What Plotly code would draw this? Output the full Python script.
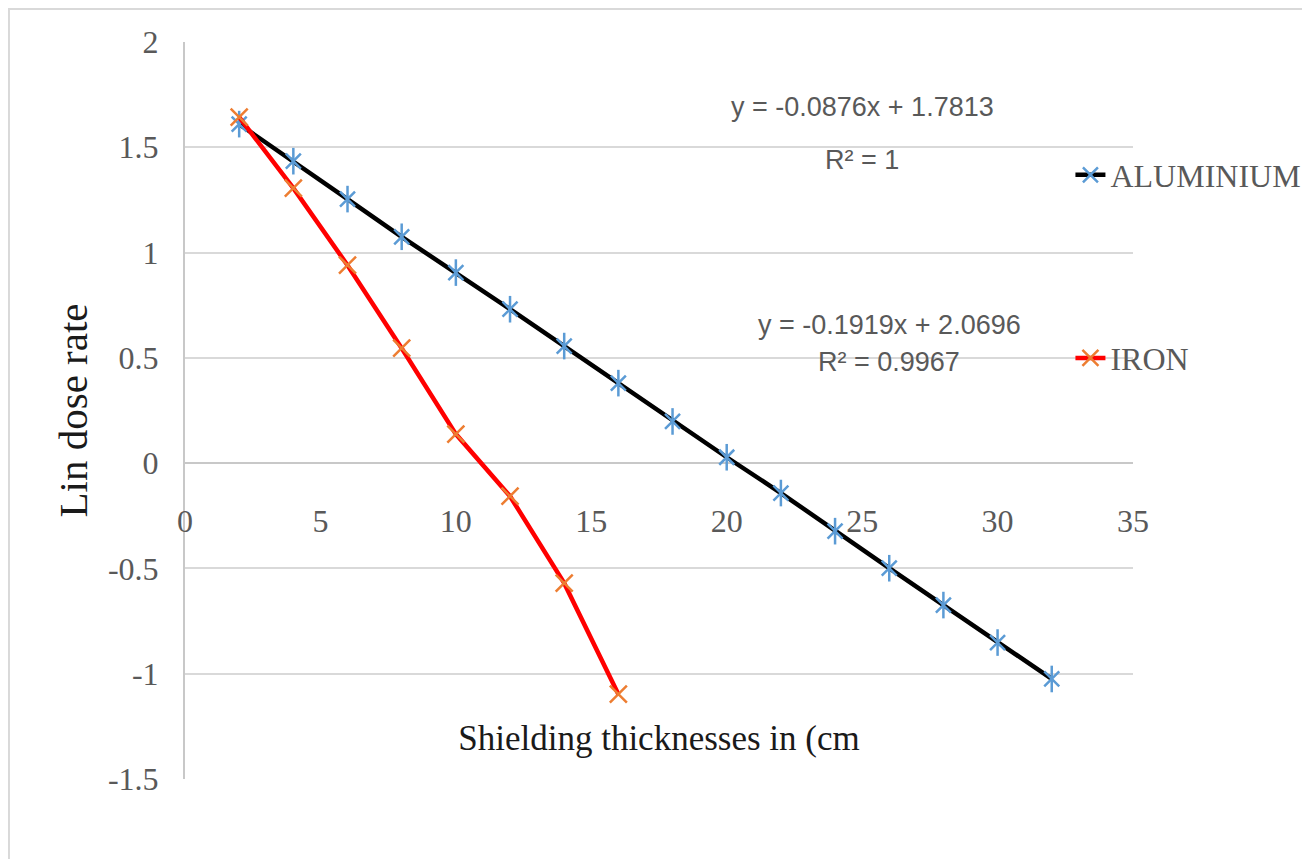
import plotly.graph_objects as go

# ---------------- data ----------------
al_x = [2, 4, 6, 8, 10, 12, 14, 16, 18, 20, 22, 24, 26, 28, 30, 32]
al_y = [1.61, 1.434, 1.254, 1.075, 0.905, 0.731, 0.556, 0.380, 0.198, 0.028,
        -0.142, -0.323, -0.499, -0.674, -0.852, -1.025]
fe_x = [2, 4, 6, 8, 10, 12, 14, 16]
fe_y = [1.643, 1.306, 0.94, 0.546, 0.138, -0.157, -0.57, -1.097]

series_names = ["ALUMINIUM", "IRON"]
x_ticks = [0, 5, 10, 15, 20, 25, 30, 35]
x_tick_text = ["0", "5", "10", "15", "20", "25", "30", "35"]
y_ticks = [-1.5, -1, -0.5, 0, 0.5, 1, 1.5, 2]
y_tick_text = ["-1.5", "-1", "-0.5", "0", "0.5", "1", "1.5", "2"]
eq_al = ["y = -0.0876x + 1.7813", "R² = 1"]
eq_fe = ["y = -0.1919x + 2.0696", "R² = 0.9967"]
x_title = "Shielding thicknesses in (cm"
y_title = "Lin dose rate"

SERIF = "Liberation Serif, Times New Roman, serif"
NARROW = "Liberation Sans Narrow, Arial Narrow, Liberation Sans, Arial, sans-serif"
GRAY_TXT = "#595959"
GRID = "#D9D9D9"

fig = go.Figure()

# Aluminium: line + X arms of star marker
fig.add_trace(go.Scatter(
    x=al_x, y=al_y, mode="lines+markers", name=series_names[0],
    line=dict(color="black", width=4.5),
    marker=dict(symbol="x-thin-open", size=15, color="#5B9BD5",
                line=dict(color="#5B9BD5", width=2.5)),
    legend="legend",
))
# vertical arm of star marker
fig.add_trace(go.Scatter(
    x=al_x, y=al_y, mode="markers", showlegend=False, hoverinfo="skip",
    marker=dict(symbol="line-ns-open", size=19, color="#5B9BD5",
                line=dict(color="#5B9BD5", width=2.5)),
))
# Iron
fig.add_trace(go.Scatter(
    x=fe_x, y=fe_y, mode="lines+markers", name=series_names[1],
    line=dict(color="#FF0000", width=4.5),
    marker=dict(symbol="x-thin-open", size=17, color="#ED7D31",
                line=dict(color="#ED7D31", width=2.5)),
    legend="legend2",
))

# trendline equations
ann = []
ann.append(dict(x=25.0, y=1.69, text=eq_al[0]))
ann.append(dict(x=25.0, y=1.44, text=eq_al[1]))
ann.append(dict(x=26.0, y=0.655, text=eq_fe[0]))
ann.append(dict(x=26.0, y=0.48, text=eq_fe[1]))
for a in ann:
    a.update(xref="x", yref="y", showarrow=False,
             font=dict(family=NARROW, size=27, color=GRAY_TXT),
             xanchor="center", yanchor="middle")

fig.update_layout(
    width=1310, height=859,
    margin=dict(l=177, r=185, t=34, b=88),
    paper_bgcolor="white", plot_bgcolor="white",
    annotations=ann,
    xaxis=dict(
        range=[0, 35], tickvals=x_ticks, ticktext=x_tick_text,
        showgrid=False, zeroline=False, showline=False,
        anchor="free", position=3 / 7,
        ticks="", ticklabelstandoff=36,
        tickfont=dict(family=SERIF, size=32, color=GRAY_TXT),
        title=dict(text=x_title, standoff=187,
                   font=dict(family=SERIF, size=35, color="#1a1a1a")),
    ),
    yaxis=dict(
        range=[-1.5, 2], tickvals=y_ticks, ticktext=y_tick_text,
        showgrid=True, gridcolor=GRID, gridwidth=2,
        zeroline=True, zerolinecolor="#C8C8C8", zerolinewidth=2,
        showline=True, linecolor="#C8C8C8", linewidth=2,
        ticks="", ticklabelstandoff=18,
        tickfont=dict(family=SERIF, size=32, color=GRAY_TXT),
        title=dict(text=y_title, standoff=8,
                   font=dict(family=SERIF, size=41, color="#1a1a1a")),
    ),
    legend=dict(x=0.934, y=0.8195, xanchor="left", yanchor="middle",
                font=dict(family=SERIF, size=32, color=GRAY_TXT),
                bgcolor="rgba(0,0,0,0)"),
    legend2=dict(x=0.934, y=0.571, xanchor="left", yanchor="middle",
                 font=dict(family=SERIF, size=32, color=GRAY_TXT),
                 bgcolor="rgba(0,0,0,0)"),
    shapes=[dict(type="rect", xref="paper", yref="paper",
                 x0=-0.1857, x1=1.5, y0=-0.2, y1=1.0448,
                 line=dict(color="#D9D9D9", width=2), layer="below")],
    showlegend=True,
)

fig.write_html("out.html")
